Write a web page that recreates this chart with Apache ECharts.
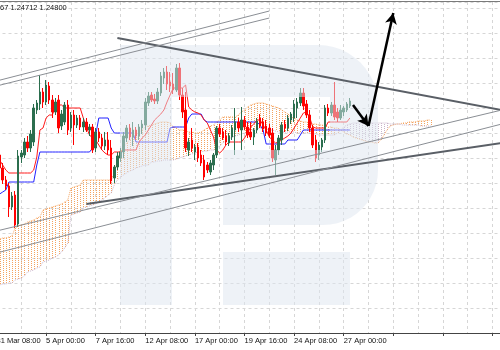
<!DOCTYPE html>
<html><head><meta charset="utf-8">
<script src="https://cdn.jsdelivr.net/npm/echarts@6/dist/echarts.min.js"></script>
<style>html,body{margin:0;padding:0;background:#fff}#c{width:500px;height:350px}</style>
</head><body><div id="c"></div>
<script>
// ---- data (H4 bars) ----
const tickLabels = ['31 Mar 08:00','5 Apr 00:00','7 Apr 16:00','12 Apr 08:00','17 Apr 00:00','19 Apr 16:00','24 Apr 08:00','27 Apr 00:00'];
const opens = [1.2460,1.2453,1.2440,1.2428,1.2422,1.2401,1.2413,1.2384,1.2451,1.2453,1.2466,1.2460,1.2466,1.2498,1.2504,1.2516,1.2506,1.2522,1.2508,1.2496,1.2508,1.2482,1.2486,1.2503,1.2480,1.2493,1.2483,1.2490,1.2481,1.2486,1.2478,1.2481,1.2460,1.2476,1.2470,1.2462,1.2468,1.2460,1.2430,1.2441,1.2450,1.2456,1.2470,1.2480,1.2471,1.2478,1.2472,1.2480,1.2483,1.2505,1.2513,1.2509,1.2507,1.2515,1.2530,1.2536,1.2526,1.2524,1.2518,1.2540,1.2513,1.2498,1.2458,1.2468,1.2456,1.2461,1.2453,1.2448,1.2443,1.2436,1.2443,1.2453,1.2480,1.2476,1.2472,1.2465,1.2471,1.2478,1.2486,1.2478,1.2488,1.2481,1.2476,1.2471,1.2478,1.2490,1.2486,1.2482,1.2480,1.2475,1.2448,1.2458,1.2468,1.2484,1.2480,1.2488,1.2490,1.2500,1.2505,1.2515,1.2504,1.2493,1.2480,1.2468,1.2453,1.2461,1.2468,1.2500,1.2495,1.2503,1.2496,1.2490,1.2496,1.2498,1.2502];
const highs = [1.2463,1.2457,1.2445,1.2432,1.2425,1.2416,1.2417,1.2458,1.2458,1.2470,1.2472,1.2478,1.2504,1.2508,1.2533,1.2520,1.2528,1.2526,1.2513,1.2510,1.2513,1.2498,1.2506,1.2508,1.2496,1.2498,1.2493,1.2493,1.2490,1.2490,1.2484,1.2484,1.2480,1.2480,1.2474,1.2476,1.2476,1.2468,1.2443,1.2456,1.2460,1.2476,1.2483,1.2484,1.2486,1.2481,1.2484,1.2488,1.2510,1.2516,1.2516,1.2514,1.2520,1.2536,1.2540,1.2542,1.2536,1.2535,1.2544,1.2545,1.2520,1.2516,1.2470,1.2480,1.2464,1.2465,1.2458,1.2453,1.2446,1.2448,1.2455,1.2482,1.2484,1.2480,1.2478,1.2475,1.2483,1.2500,1.2490,1.2501,1.2492,1.2486,1.2486,1.2480,1.2490,1.2494,1.2490,1.2488,1.2484,1.2480,1.2463,1.2473,1.2486,1.2488,1.2493,1.2496,1.2508,1.2510,1.2520,1.2520,1.2508,1.2498,1.2483,1.2473,1.2466,1.2470,1.2503,1.2504,1.2506,1.2526,1.2500,1.2503,1.2502,1.2506,1.2510];
const lows = [1.2450,1.2436,1.2424,1.2418,1.2391,1.2398,1.2380,1.2381,1.2445,1.2450,1.2456,1.2456,1.2462,1.2494,1.2498,1.2500,1.2503,1.2504,1.2490,1.2493,1.2475,1.2478,1.2483,1.2473,1.2476,1.2463,1.2480,1.2478,1.2476,1.2476,1.2472,1.2455,1.2456,1.2466,1.2458,1.2458,1.2453,1.2424,1.2425,1.2438,1.2446,1.2450,1.2466,1.2468,1.2462,1.2468,1.2468,1.2474,1.2478,1.2502,1.2506,1.2504,1.2504,1.2512,1.2524,1.2518,1.2516,1.2514,1.2516,1.2508,1.2490,1.2456,1.2452,1.2456,1.2448,1.2446,1.2442,1.2428,1.2435,1.2433,1.2438,1.2450,1.2471,1.2468,1.2463,1.2462,1.2468,1.2453,1.2476,1.2458,1.2478,1.2470,1.2468,1.2463,1.2475,1.2480,1.2476,1.2472,1.2470,1.2446,1.2433,1.2453,1.2463,1.2476,1.2477,1.2484,1.2486,1.2490,1.2502,1.2498,1.2490,1.2476,1.2460,1.2446,1.2448,1.2456,1.2465,1.2492,1.2492,1.2488,1.2486,1.2488,1.2492,1.2496,1.2500];
const closes = [1.2453,1.2440,1.2428,1.2422,1.2401,1.2412,1.2383,1.2452,1.2455,1.2466,1.2460,1.2474,1.2500,1.2505,1.2516,1.2506,1.2523,1.2508,1.2496,1.2506,1.2480,1.2494,1.2503,1.2478,1.2493,1.2483,1.2490,1.2481,1.2486,1.2478,1.2481,1.2458,1.2476,1.2470,1.2462,1.2468,1.2458,1.2427,1.2441,1.2452,1.2456,1.2472,1.2480,1.2471,1.2478,1.2472,1.2481,1.2484,1.2506,1.2512,1.2508,1.2507,1.2516,1.2532,1.2536,1.2524,1.2522,1.2518,1.2540,1.2513,1.2496,1.2460,1.2466,1.2460,1.2461,1.2450,1.2445,1.2431,1.2438,1.2445,1.2453,1.2480,1.2474,1.2470,1.2466,1.2472,1.2480,1.2486,1.2480,1.2488,1.2481,1.2473,1.2471,1.2478,1.2487,1.2482,1.2479,1.2475,1.2473,1.2450,1.2458,1.2470,1.2483,1.2480,1.2490,1.2494,1.2504,1.2506,1.2515,1.2502,1.2493,1.2480,1.2463,1.2450,1.2463,1.2468,1.2500,1.2495,1.2503,1.2491,1.2490,1.2498,1.2500,1.2504,1.2507];
const tenkan = [1.2450,1.2448,1.2443,1.2438,1.2435,1.2435,1.2435,1.2435,1.2435,1.2435,1.2435,1.2435,1.2438,1.2451,1.2478,1.2480,1.2490,1.2493,1.2493,1.2501,1.2503,1.2503,1.2500,1.2500,1.2500,1.2500,1.2500,1.2500,1.2490,1.2481,1.2473,1.2470,1.2468,1.2463,1.2458,1.2455,1.2453,1.2453,1.2456,1.2456,1.2456,1.2458,1.2458,1.2458,1.2458,1.2458,1.2466,1.2470,1.2473,1.2478,1.2483,1.2488,1.2491,1.2494,1.2498,1.2506,1.2513,1.2520,1.2520,1.2520,1.2520,1.2523,1.2501,1.2498,1.2496,1.2495,1.2493,1.2488,1.2485,1.2478,1.2471,1.2458,1.2455,1.2458,1.2463,1.2466,1.2466,1.2466,1.2466,1.2466,1.2470,1.2475,1.2481,1.2484,1.2488,1.2488,1.2483,1.2478,1.2471,1.2468,1.2465,1.2466,1.2468,1.2470,1.2472,1.2475,1.2480,1.2485,1.2490,1.2495,1.2496,1.2491,1.2481,1.2480,1.2480,1.2480,1.2480,1.2486,1.2486,1.2486,1.2486,1.2486,1.2486,1.2486,1.2490];
const kijun = [1.2413,1.2414,1.2416,1.2418,1.2426,1.2426,1.2426,1.2426,1.2426,1.2426,1.2426,1.2426,1.2426,1.2443,1.2456,1.2456,1.2456,1.2456,1.2456,1.2456,1.2456,1.2456,1.2456,1.2456,1.2456,1.2456,1.2456,1.2456,1.2456,1.2456,1.2456,1.2460,1.2473,1.2490,1.2490,1.2490,1.2490,1.2480,1.2475,1.2475,1.2475,1.2475,1.2475,1.2475,1.2475,1.2466,1.2466,1.2466,1.2466,1.2466,1.2466,1.2466,1.2466,1.2466,1.2466,1.2466,1.2480,1.2481,1.2481,1.2481,1.2481,1.2481,1.2490,1.2494,1.2494,1.2494,1.2494,1.2488,1.2486,1.2486,1.2486,1.2486,1.2486,1.2486,1.2486,1.2486,1.2486,1.2486,1.2486,1.2486,1.2486,1.2486,1.2486,1.2486,1.2486,1.2483,1.2478,1.2464,1.2464,1.2464,1.2464,1.2464,1.2464,1.2464,1.2468,1.2468,1.2468,1.2468,1.2473,1.2478,1.2478,1.2478,1.2478,1.2478,1.2478,1.2478,1.2478,1.2478,1.2478,1.2478,1.2478,1.2478,1.2478,1.2478,1.2478];
const spanA = [1.2368,1.2369,1.2370,1.2370,1.2371,1.2372,1.2380,1.2382,1.2383,1.2384,1.2386,1.2387,1.2388,1.2390,1.2391,1.2398,1.2399,1.2400,1.2401,1.2402,1.2403,1.2404,1.2406,1.2408,1.2420,1.2421,1.2422,1.2423,1.2428,1.2428,1.2428,1.2428,1.2428,1.2428,1.2428,1.2428,1.2428,1.2428,1.2435,1.2448,1.2458,1.2461,1.2465,1.2468,1.2471,1.2473,1.2476,1.2478,1.2481,1.2482,1.2483,1.2484,1.2485,1.2486,1.2486,1.2486,1.2485,1.2481,1.2480,1.2478,1.2478,1.2477,1.2476,1.2476,1.2475,1.2475,1.2476,1.2478,1.2480,1.2482,1.2483,1.2486,1.2488,1.2491,1.2491,1.2491,1.2491,1.2491,1.2493,1.2496,1.2498,1.2501,1.2503,1.2504,1.2505,1.2505,1.2505,1.2504,1.2503,1.2502,1.2501,1.2500,1.2498,1.2496,1.2494,1.2491,1.2490,1.2488,1.2487,1.2486,1.2486,1.2485,1.2484,1.2484,1.2483,1.2483,1.2482,1.2481,1.2481,1.2480,1.2480,1.2478,1.2476,1.2474,1.2473,1.2471,1.2470,1.2469,1.2468,1.2467,1.2466,1.2466,1.2465,1.2465,1.2468,1.2473,1.2478,1.2482,1.2483,1.2484,1.2484,1.2485,1.2485,1.2486,1.2486,1.2486,1.2487,1.2487,1.2487,1.2488,1.2488];
const spanB = [1.2323,1.2323,1.2324,1.2324,1.2325,1.2325,1.2328,1.2329,1.2330,1.2332,1.2336,1.2337,1.2338,1.2340,1.2341,1.2346,1.2347,1.2348,1.2350,1.2351,1.2353,1.2356,1.2360,1.2365,1.2393,1.2394,1.2395,1.2396,1.2400,1.2401,1.2402,1.2403,1.2404,1.2406,1.2408,1.2410,1.2413,1.2415,1.2423,1.2428,1.2431,1.2433,1.2435,1.2437,1.2438,1.2440,1.2441,1.2442,1.2443,1.2443,1.2446,1.2446,1.2447,1.2447,1.2448,1.2448,1.2448,1.2448,1.2449,1.2450,1.2451,1.2452,1.2453,1.2454,1.2455,1.2456,1.2456,1.2457,1.2457,1.2458,1.2458,1.2460,1.2462,1.2465,1.2467,1.2469,1.2471,1.2472,1.2473,1.2474,1.2475,1.2476,1.2478,1.2478,1.2479,1.2480,1.2480,1.2479,1.2478,1.2478,1.2477,1.2476,1.2476,1.2476,1.2476,1.2476,1.2476,1.2475,1.2475,1.2475,1.2475,1.2475,1.2474,1.2474,1.2473,1.2473,1.2473,1.2473,1.2473,1.2473,1.2475,1.2478,1.2481,1.2483,1.2484,1.2485,1.2485,1.2485,1.2485,1.2485,1.2485,1.2485,1.2485,1.2485,1.2485,1.2485,1.2485,1.2484,1.2484,1.2484,1.2484,1.2483,1.2483,1.2483,1.2483,1.2483,1.2483,1.2482,1.2482,1.2482,1.2482];
// trend lines: [barIndex, price] endpoints
const trendLines = [
  {pts: [[39, 1.2570], [163, 1.2498]], w: 2, c: '#5a5f66'},
  {pts: [[0, 1.2527], [88, 1.2597]], w: 1, c: '#8a8e94'},
  {pts: [[0, 1.2522], [88, 1.2590]], w: 1, c: '#8a8e94'},
  {pts: [[29, 1.2404], [163, 1.2465]], w: 2, c: '#5a5f66'},
  {pts: [[0, 1.2377], [163, 1.2498]], w: 1, c: '#8a8e94'},
  {pts: [[0, 1.2355], [163, 1.2484]], w: 1, c: '#8a8e94'}
];
const arrowPts = [[115, 1.2503], [120, 1.2482], [128, 1.2595]];
const totalBars = 164;

// ---- build ----
const cats = Array.from({length: totalBars}, (_, i) => String(i));
const candle = opens.map((o, i) => [o, closes[i], lows[i], highs[i]]);
const cloud = spanA.map((a, i) => [i, a, spanB[i]]);
const dash = {type: [3, 3], color: '#d6d6d6', width: 1};

const series = [
  {type: 'custom', renderItem: (p, api) => {
      const i = api.value(0), a = api.value(1), b = api.value(2);
      const p1 = api.coord([i, a]), p2 = api.coord([i, b]);
      const x = Math.round(p1[0]) + 0.5;
      return {type: 'line', shape: {x1: x, y1: p1[1], x2: x, y2: p2[1]},
        style: {stroke: a >= b ? '#f4a460' : '#c9b3c9', lineWidth: 1, lineDash: [1, 1]}};
    }, data: cloud, encode: {x: 0, y: [1, 2]}, z: 1, silent: true},
  {type: 'line', data: spanA, symbol: 'none', lineStyle: {color: '#f4a460', width: 1, type: [1, 1]}, z: 2, silent: true},
  {type: 'line', data: spanB, symbol: 'none', lineStyle: {color: '#c9b3c9', width: 1, type: [1, 1]}, z: 2, silent: true},
  {type: 'line', data: kijun, symbol: 'none', lineStyle: {color: '#2222ff', width: 1}, z: 3, silent: true},
  {type: 'line', data: tenkan, symbol: 'none', lineStyle: {color: '#ff1a1a', width: 1}, z: 3, silent: true},
  {type: 'candlestick', data: candle, barWidth: 2, z: 4, silent: true,
    itemStyle: {color: '#2b6e4e', color0: '#ff0000', borderColor: '#2b6e4e', borderColor0: '#ff0000', borderWidth: 1}}
];
trendLines.forEach(t => series.push({type: 'line', data: t.pts, symbol: 'none', z: 100, silent: true,
  lineStyle: {color: t.c, width: t.w}}));
series.push({type: 'line', data: [], symbol: 'none', silent: true, z: 120,
  markLine: {silent: true, z: 120, symbol: ['none', 'arrow'], symbolSize: [9, 11], animation: false,
    lineStyle: {color: '#000', width: 2.5, type: 'solid', opacity: 1}, label: {show: false},
    emphasis: {disabled: true},
    data: [[{coord: arrowPts[0]}, {coord: arrowPts[1]}], [{coord: arrowPts[1]}, {coord: arrowPts[2]}]]}});

// watermark outline (decoration)
function arcPts(cx, cy, r, a0, a1) {
  const out = [];
  for (let k = 0; k <= 12; k++) { const a = a0 + (a1 - a0) * k / 12; out.push([cx + r * Math.cos(a), cy + r * Math.sin(a)]); }
  return out;
}
const rShape = [[120, 45]].concat(arcPts(318, 105, 60, -Math.PI / 2, 0), arcPts(323, 170, 55, 0, Math.PI / 2),
  [[223, 225], [223, 150], [330, 150], [330, 97], [172, 97], [172, 305], [120, 305]]);
const W = 'rgba(222,229,240,0.5)';

const chart = echarts.init(document.getElementById('c'), null, {renderer: 'canvas'});
chart.setOption({
  animation: false,
  backgroundColor: '#fff',
  grid: {left: -3.5, top: 2, width: 505.3, height: 331, containLabel: false, outerBoundsMode: 'none'},
  xAxis: {type: 'category', data: cats, boundaryGap: false,
    axisLine: {lineStyle: {color: '#444', width: 1}},
    axisTick: {interval: 15, length: 3, lineStyle: {color: '#444'}},
    axisLabel: {interval: 15, align: 'left', margin: 4, fontSize: 7.5, color: '#111', fontFamily: 'Liberation Sans',
      formatter: (v, idx) => tickLabels[idx / 16] || ''},
    splitLine: {show: true, interval: 7, lineStyle: dash}},
  yAxis: {type: 'value', min: 1.2275, max: 1.2606, interval: 0.0025, show: true,
    axisLine: {show: false}, axisTick: {show: false}, axisLabel: {show: false},
    splitLine: {show: true, lineStyle: dash}},
  series: series,
  graphic: [
    {type: 'polygon', z: 50, silent: true, shape: {points: rShape}, style: {fill: W}},
    {type: 'rect', z: 50, silent: true, shape: {x: 223, y: 252, width: 127, height: 53}, style: {fill: W}},
    {type: 'line', z: 60, silent: true, shape: {x1: 0, y1: 1.5, x2: 500, y2: 1.5}, style: {stroke: '#7a7a7a', lineWidth: 1}},
    {type: 'text', z: 60, silent: true, left: 0, top: 4, style: {text: '67 1.24712 1.24800', fontSize: 7.5, fill: '#111', fontFamily: 'Liberation Sans'}}
  ]
});
</script></body></html>
